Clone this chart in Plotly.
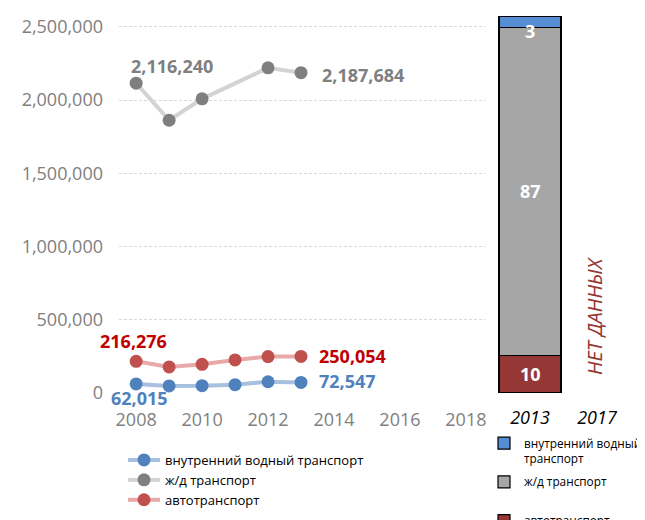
import plotly.graph_objects as go

years = [2008, 2009, 2010, 2011, 2012, 2013]
water = [62015, 48000, 50000, 57000, 77000, 72547]
rail = [2116240, 1863000, 2009000, None, 2221000, 2187684]
road = [216276, 178000, 196000, 226000, 249000, 250054]

bar_cats = ["2013", "2017"]
share_road = [10, None]
share_rail = [87, None]
share_water = [3, None]

names = ["внутренний водный транспорт", "ж/д транспорт", "автотранспорт"]
bar_names = ["внутренний водный<br>транспорт", "ж/д транспорт<br>\u00a0", "автотранспорт"]
no_data = "НЕТ ДАННЫХ"

FONT = "Open Sans"
W, H, OFF = 637, 512, 8   # page body margin offsets the figure by 8px


def px(p):
    return (p - OFF) / W


def py(p):
    return (H - (p - OFF)) / H


fig = go.Figure()

line_specs = [
    (water, names[0], "#a7c0e0", "#4f81bd"),
    (rail, names[1], "#d3d3d3", "#7f7f7f"),
    (road, names[2], "#e8a9a8", "#c0504d"),
]
for vals, nm, lc, mc in line_specs:
    fig.add_trace(go.Scatter(
        x=years, y=vals, name=nm, mode="lines+markers", connectgaps=True,
        line=dict(color=lc, width=4), marker=dict(color=mc, size=13),
        legend="legend", xaxis="x", yaxis="y", hoverinfo="skip"))

bar_specs = [
    (share_road, bar_names[2], "#953735", 3),
    (share_rail, bar_names[1], "#a6a6a6", 2),
    (share_water, bar_names[0], "#558ed5", 1),
]
for vals, nm, col, rank in bar_specs:
    fig.add_trace(go.Bar(
        x=bar_cats, y=vals, name=nm, marker=dict(color=col, line=dict(color="black", width=1.2)),
        legend="legend2", legendrank=rank, legendgroup=nm, xaxis="x2", yaxis="y2", hoverinfo="skip"))

ann = []


def lab(x, y, t, col, xanchor, xs, ys):
    ann.append(dict(x=x, y=y, xref="x", yref="y", text="<b>%s</b>" % t, showarrow=False,
                    xanchor=xanchor, yanchor="middle", xshift=xs, yshift=ys,
                    font=dict(family=FONT, size=18, color=col)))


lab(years[0], rail[0], f"{rail[0]:,}", "#7f7f7f", "left", -7, 17)
lab(years[-1], rail[-1], f"{rail[-1]:,}", "#7f7f7f", "left", 19, -2)
lab(years[0], road[0], f"{road[0]:,}", "#c00000", "center", -3, 20)
lab(years[-1], road[-1], f"{road[-1]:,}", "#c00000", "left", 16, 0)
lab(years[0], water[0], f"{water[0]:,}", "#4f81bd", "center", 3, -14)
lab(years[-1], water[-1], f"{water[-1]:,}", "#4f81bd", "left", 16, 1)

cat0 = bar_cats.index("2013")
cat1 = bar_cats.index("2017")
cum = 0
for vals, nm, col, rank in bar_specs:
    v = vals[cat0]
    ys = -9 if v < 5 else 0
    ann.append(dict(x=cat0, y=cum + v / 2, xref="x2", yref="y2", text="<b>%d</b>" % v,
                    showarrow=False, yshift=ys, font=dict(family=FONT, size=18, color="white")))
    cum += v

ann.append(dict(x=cat1, y=20.4, xref="x2", yref="y2", text="<i>%s</i>" % no_data,
                showarrow=False, textangle=-90, xshift=-3,
                font=dict(family=FONT, size=20, color="#953735")))

fig.update_layout(
    width=W, height=H, margin=dict(l=0, r=0, t=0, b=0, autoexpand=False),
    paper_bgcolor="white", plot_bgcolor="white",
    font=dict(family=FONT, color="#808080"),
    barmode="stack", bargap=0.075, showlegend=True,
    annotations=ann,
    xaxis=dict(domain=[px(119), px(485)], range=[2007.48, 2018.58], tick0=2008, dtick=2,
               showgrid=False, zeroline=False, showline=False, ticks="",
               tickfont=dict(size=18, color="#808080"), ticklabelstandoff=14),
    yaxis=dict(domain=[py(393), py(16)], range=[0, 2575000], dtick=500000,
               tickformat=",", showgrid=True, gridcolor="#d9d9d9", griddash="3px,2px", gridwidth=1,
               zeroline=False, showline=False, ticks="",
               tickfont=dict(size=18, color="#808080"), ticklabelstandoff=15),
    xaxis2=dict(domain=[px(496.5), px(630.5)], anchor="y2", type="category", range=[-0.5, 1.5],
                showgrid=False, zeroline=False, showline=False, ticks="",
                tickfont=dict(size=18, color="black"), tickprefix="<i>", ticksuffix="</i>",
                ticklabelstandoff=12),
    yaxis2=dict(domain=[py(393), py(16)], anchor="x2", range=[0, 100], visible=False),
    legend=dict(x=px(123), y=py(445), xanchor="left", yanchor="top",
                font=dict(size=13, color="black"), bgcolor="rgba(0,0,0,0)", tracegroupgap=0,
                itemwidth=32),
    legend2=dict(x=px(484), y=py(429), xanchor="left", yanchor="top", valign="top",
                 font=dict(size=11.8, color="black"), bgcolor="rgba(0,0,0,0)", tracegroupgap=5,
                 itemwidth=30),
)

fig.write_html("out.html")
